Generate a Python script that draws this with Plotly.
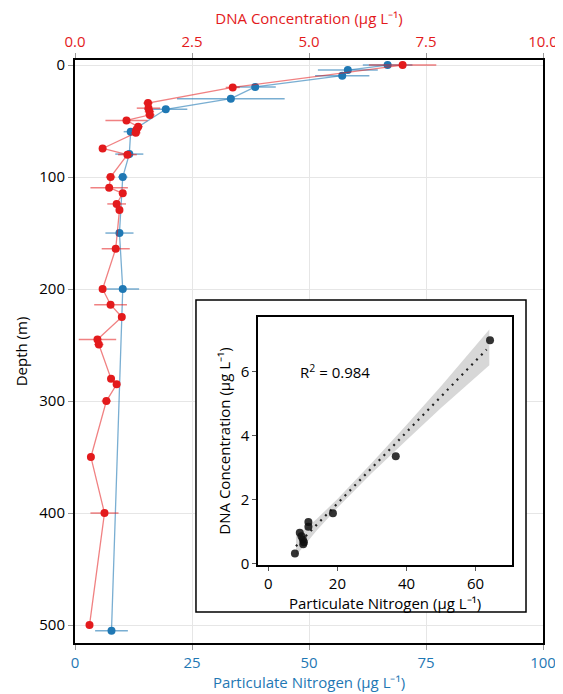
import plotly.graph_objects as go

# ---------------- data ----------------
# DNA concentration profile (top axis, µg L-1)
dna_depth = [0, 20, 34, 38.5, 41.5, 44.5, 49.5, 55, 58, 60.5, 74.5, 80, 100, 109.5, 114.5,
             124, 129.5, 164, 200, 214, 225, 245, 249.5, 280, 285, 300, 350, 400, 500]
dna_val = [7.0, 3.37, 1.56, 1.57, 1.59, 1.6, 1.10, 1.35, 1.31, 1.30, 0.59, 1.12, 0.76, 0.73, 1.02,
           0.89, 0.95, 0.87, 0.59, 0.76, 1.0, 0.48, 0.51, 0.77, 0.89, 0.67, 0.34, 0.63, 0.31]
dna_err = [0.72, 0.15, 0.1, 0.25, 0.1, 0.1, 0.45, 0.1, 0.1, 0.1, 0.05, 0.2, 0.1, 0.4, 0.05,
           0.2, 0.05, 0.3, 0.05, 0.35, 0.05, 0.4, 0.1, 0.05, 0.05, 0.1, 0.05, 0.3, 0.05]

# Particulate nitrogen profile (bottom axis, µg L-1)
pn_depth = [0, 4.5, 9.5, 19.5, 30, 39.5, 59.5, 79.5, 100, 150, 200, 505]
pn_val = [66.8, 58.3, 57.1, 38.5, 33.3, 19.4, 11.9, 11.6, 10.2, 9.5, 10.2, 7.8]
pn_err = [5.3, 6.4, 5.8, 4.4, 11.5, 4.6, 1.5, 3.0, 1.0, 3.0, 3.5, 3.5]

# Inset: DNA vs particulate nitrogen
inset_pn = [64.2, 36.9, 18.7, 11.6, 11.6, 9.1, 10.0, 10.1, 7.7, 10.3, 9.6]
inset_dna = [6.99, 3.36, 1.57, 1.30, 1.15, 0.96, 0.75, 0.60, 0.31, 0.66, 0.85]

# regression line and confidence band
fit_pn = [8.0, 63.2]
fit_dna = [0.54, 6.70]
band_pn = [8, 14, 20, 30, 40, 50, 64]
band_lo = [0.24, 1.03, 1.74, 2.83, 3.86, 4.87, 6.21]
band_hi = [0.84, 1.39, 2.02, 3.15, 4.34, 5.55, 7.33]

pn_ticks = [0, 25, 50, 75, 100]
dna_ticks = [0, 2.5, 5.0, 7.5, 10.0]
depth_ticks = [0, 100, 200, 300, 400, 500]

RED = "#e31a1c"
RED_L = "rgba(227,26,28,0.55)"
BLUE = "#1f78b4"
BLUE_L = "rgba(31,120,180,0.6)"
FONT = "Open Sans"

PN_RANGE = [0, 100]
DEPTH_RANGE = [516, -4.5]

# inset frame as fractions of the main plot area
box_fx = [0.2585, 0.9637]
box_fy = [0.0532, 0.5883]   # from bottom


def frac_to_x(f):
    return PN_RANGE[0] + f * (PN_RANGE[1] - PN_RANGE[0])


def frac_to_depth(f):
    return DEPTH_RANGE[0] + f * (DEPTH_RANGE[1] - DEPTH_RANGE[0])


fig = go.Figure()

# blue (particulate nitrogen) on bottom axis
fig.add_trace(go.Scatter(
    x=pn_val, y=pn_depth, mode="lines+markers", xaxis="x", yaxis="y",
    line=dict(color=BLUE_L, width=1.3),
    marker=dict(color=BLUE, size=8),
    error_x=dict(type="data", array=pn_err, color=BLUE_L, thickness=1.5, width=0),
    showlegend=False))

# red (DNA) on top axis
fig.add_trace(go.Scatter(
    x=dna_val, y=dna_depth, mode="lines+markers", xaxis="x2", yaxis="y",
    line=dict(color=RED_L, width=1.3),
    marker=dict(color=RED, size=8),
    error_x=dict(type="data", array=dna_err, color=RED_L, thickness=1.5, width=0),
    showlegend=False))

# inset: confidence band
fig.add_trace(go.Scatter(x=band_pn, y=band_lo, mode="lines", line=dict(width=0),
                         xaxis="x3", yaxis="y3", showlegend=False, hoverinfo="skip"))
fig.add_trace(go.Scatter(x=band_pn, y=band_hi, mode="lines", line=dict(width=0),
                         fill="tonexty", fillcolor="rgba(205,205,205,0.8)",
                         xaxis="x3", yaxis="y3", showlegend=False, hoverinfo="skip"))
# fit line
fig.add_trace(go.Scatter(x=fit_pn, y=fit_dna, mode="lines",
                         line=dict(color="#222222", width=2.2, dash="2px,5px"),
                         xaxis="x3", yaxis="y3", showlegend=False))
# points
fig.add_trace(go.Scatter(x=inset_pn, y=inset_dna, mode="markers",
                         marker=dict(color="rgba(15,15,15,0.85)", size=8),
                         xaxis="x3", yaxis="y3", showlegend=False))

axis_common = dict(ticks="outside", ticklen=5, tickcolor="#999999", tickwidth=1,
                   zeroline=False, automargin=False)

fig.update_layout(
    width=555, height=686,
    margin=dict(l=67, r=20, t=52, b=51),
    paper_bgcolor="white", plot_bgcolor="white",
    font=dict(family=FONT, size=15, color="black"),
    xaxis=dict(domain=[0, 1], range=PN_RANGE, tickvals=pn_ticks,
               tickfont=dict(color=BLUE, size=15),
               title=dict(text="Particulate Nitrogen (µg L⁻¹)", font=dict(color=BLUE, size=15), standoff=6),
               showgrid=True, gridcolor="#e6e6e6", gridwidth=1,
               showline=True, linecolor="black", linewidth=2, anchor="y",
               **axis_common),
    xaxis2=dict(overlaying="x", side="top", range=[0, 10], tickvals=dna_ticks,
                tickformat=".1f", tickfont=dict(color=RED, size=15),
                title=dict(text="DNA Concentration (µg L⁻¹)", font=dict(color=RED, size=15), standoff=6),
                showgrid=False, showline=True, linecolor="black", linewidth=2, anchor="y",
                **axis_common),
    yaxis=dict(domain=[0, 1], range=DEPTH_RANGE, tickvals=depth_ticks,
               title=dict(text="Depth (m)", font=dict(size=15), standoff=8),
               showgrid=True, gridcolor="#e6e6e6", gridwidth=1,
               showline=True, linecolor="black", linewidth=2, mirror=True,
               **axis_common),
    xaxis3=dict(domain=[0.391, 0.934], range=[-3, 70.6], tickvals=[0, 20, 40, 60],
                anchor="y3", showgrid=False, automargin=False,
                title=dict(text="Particulate Nitrogen (µg L⁻¹)", font=dict(size=15), standoff=2),
                showline=True, linecolor="black", linewidth=1.5, mirror=True,
                ticks="outside", ticklen=4, tickcolor="#555555", zeroline=False),
    yaxis3=dict(domain=[0.1338, 0.5592], range=[-0.05, 7.72], tickvals=[0, 2, 4, 6],
                anchor="x3", showgrid=False, automargin=False,
                title=dict(text="DNA Concentration (µg L⁻¹)", font=dict(size=15), standoff=6),
                showline=True, linecolor="black", linewidth=1.5, mirror=True,
                ticks="outside", ticklen=4, tickcolor="#555555", zeroline=False),
    shapes=[dict(type="rect", xref="x", yref="y",
                 x0=frac_to_x(box_fx[0]), x1=frac_to_x(box_fx[1]),
                 y0=frac_to_depth(box_fy[0]), y1=frac_to_depth(box_fy[1]),
                 fillcolor="white", line=dict(color="black", width=1.5),
                 layer="between")],
    annotations=[dict(text="R<sup>2</sup> = 0.984", x=8.7, y=6.0, xref="x3", yref="y3",
                      xanchor="left", yanchor="middle", showarrow=False,
                      font=dict(size=15, color="black"))],
)

fig.write_html("out.html")
